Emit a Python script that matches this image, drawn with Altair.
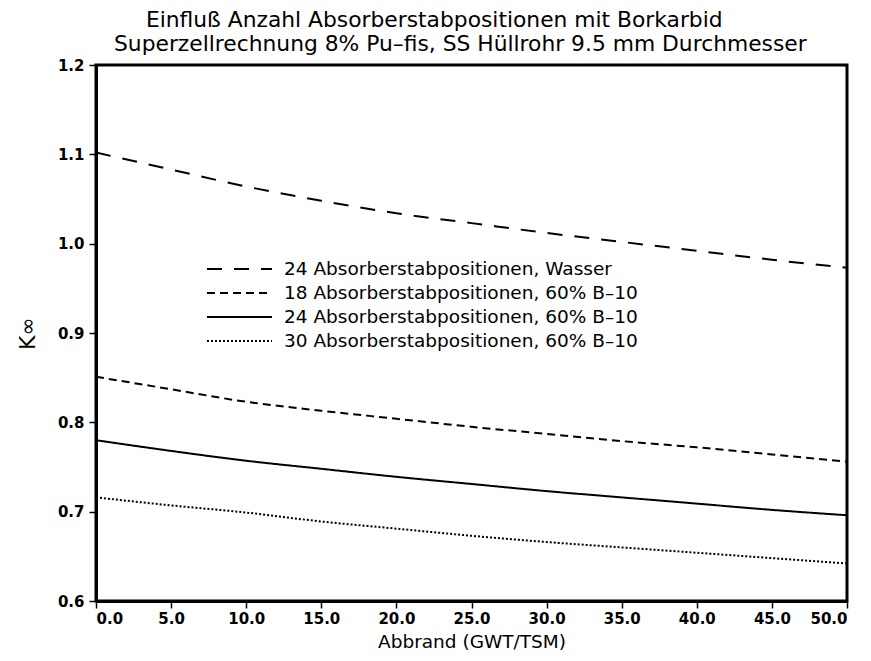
import altair as alt
import pandas as pd

# Abbrand (GWT/TSM)
burnup = [0, 5, 10, 15, 20, 25, 30, 35, 40, 45, 50]

# K-infinity values
k_24_wasser = [1.102, 1.083, 1.064, 1.048, 1.034, 1.023, 1.012, 1.002, 0.992, 0.982, 0.973]
k_18_b10 = [0.851, 0.837, 0.823, 0.813, 0.804, 0.795, 0.787, 0.779, 0.772, 0.764, 0.756]
k_24_b10 = [0.780, 0.768, 0.757, 0.748, 0.739, 0.731, 0.723, 0.716, 0.709, 0.702, 0.696]
k_30_b10 = [0.716, 0.707, 0.699, 0.689, 0.681, 0.673, 0.666, 0.660, 0.654, 0.648, 0.642]

series_names = [
    "24 Absorberstabpositionen, Wasser",
    "18 Absorberstabpositionen, 60% B–10",
    "24 Absorberstabpositionen, 60% B–10",
    "30 Absorberstabpositionen, 60% B–10",
]
series_values = [k_24_wasser, k_18_b10, k_24_b10, k_30_b10]
dash_patterns = [[15, 12], [8, 5], [1, 0], [2, 2]]

x_ticks = [0, 5, 10, 15, 20, 25, 30, 35, 40, 45, 50]
y_ticks = [0.6, 0.7, 0.8, 0.9, 1.0, 1.1, 1.2]

title_lines = [
    "\u2800\u2800Einfluß Anzahl Absorberstabpositionen mit Borkarbid",
    "Superzellrechnung 8% Pu–fis, SS Hüllrohr 9.5 mm Durchmesser",
]

rows = []
for name, vals in zip(series_names, series_values):
    for b, k in zip(burnup, vals):
        rows.append({"burnup": b, "k": k, "series": name})
df = pd.DataFrame(rows)

FONT = "DejaVu Sans"

chart = (
    alt.Chart(df)
    .mark_line(color="black", strokeWidth=2, interpolate="monotone")
    .encode(
        x=alt.X(
            "burnup:Q",
            scale=alt.Scale(domain=[0, 50], nice=False),
            axis=alt.Axis(
                values=x_ticks,
                format=".1f",
                title="Abbrand (GWT/TSM)",
                titleFontSize=18.5,
                titlePadding=6,
                labelFontSize=15,
                labelFontWeight="bold",
                labelPadding=3,
            ),
        ),
        y=alt.Y(
            "k:Q",
            scale=alt.Scale(domain=[0.6, 1.2], nice=False, zero=False),
            axis=alt.Axis(
                values=y_ticks,
                format=".1f",
                title="K∞",
                titleFontSize=22,
                titlePadding=18,
                labelFontSize=15,
                labelFontWeight="bold",
                labelPadding=5,
            ),
        ),
        strokeDash=alt.StrokeDash(
            "series:N",
            scale=alt.Scale(domain=series_names, range=dash_patterns),
            legend=alt.Legend(
                title=None,
                orient="none",
                legendX=110,
                legendY=192,
                symbolType="stroke",
                symbolSize=4225,
                symbolStrokeWidth=2,
                symbolStrokeColor="black",
                clipHeight=24,
                rowPadding=0,
                padding=0,
                labelFontSize=18.5,
                labelFont=FONT,
                labelColor="black",
                labelOffset=11,
                labelLimit=0,
            ),
        ),
    )
    .properties(
        width=751,
        height=536,
        title=alt.TitleParams(
            text=title_lines,
            anchor="start",
            frame="group",
            dx=18,
            fontSize=21.8,
            fontWeight="normal",
            font=FONT,
            color="black",
            lineHeight=24,
            offset=2,
        ),
        padding={"left": 8, "top": 2, "right": 5, "bottom": 5},
    )
    .configure(font=FONT)
    .configure_view(stroke="black", strokeWidth=3)
    .configure_axis(
        grid=False,
        domainColor="black",
        domainWidth=3,
        tickColor="black",
        tickWidth=1.5,
        tickSize=7,
        labelColor="black",
        titleColor="black",
        titleFontWeight="normal",
        labelFont=FONT,
        titleFont=FONT,
    )
)

chart.save("out.html", embed_options={"renderer": "svg", "actions": False})
